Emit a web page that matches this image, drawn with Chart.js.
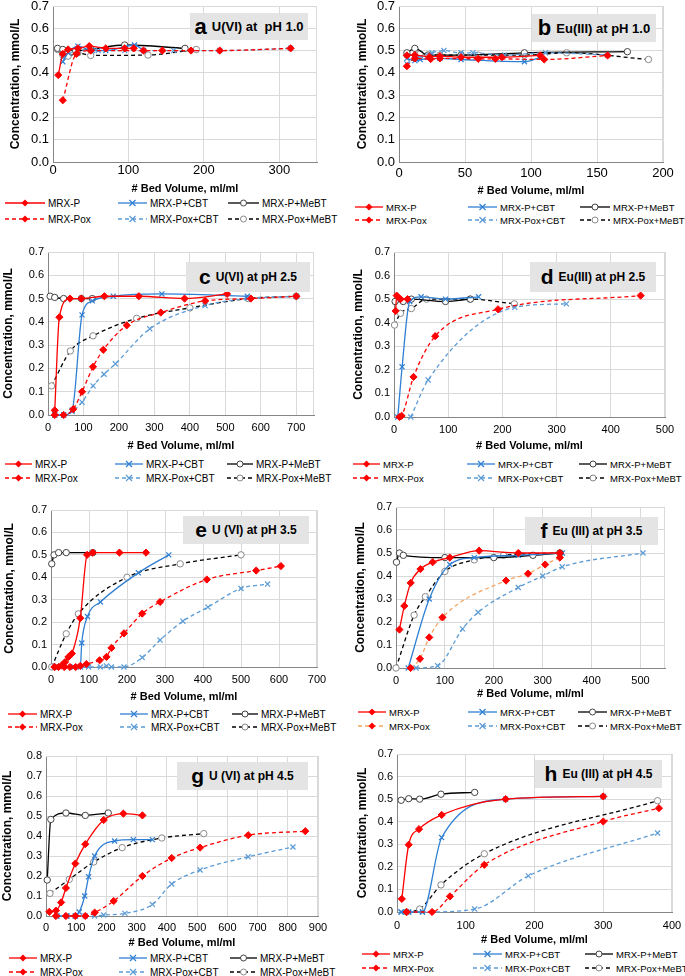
<!DOCTYPE html>
<html>
<head>
<meta charset="utf-8">
<script src="https://cdn.jsdelivr.net/npm/chart.js@4.4.0/dist/chart.umd.min.js"></script>
<style>
body{margin:0;background:#fff;width:685px;height:976px;position:relative;overflow:hidden;font-family:"Liberation Sans",Arial,sans-serif}
canvas{position:absolute}
.tbox{position:absolute;background:#e4e4e4;font-weight:bold;color:#000;display:flex;align-items:center;justify-content:center;white-space:pre}
.tbox b{margin-right:5px;font-weight:bold}
.leg{position:absolute;display:flex;align-items:center;white-space:nowrap;color:#000;height:14px}
.leg svg{margin-right:3px}
</style>
</head>
<body>
<script>
// ---- data: [bed volume, concentration] ----
const aP = [[7,0.39],[13,0.485],[20,0.505],[33,0.51],[48,0.52],[70,0.51],[95,0.51],[107,0.51]];
const aPox = [[13,0.277],[31,0.485],[50,0.50],[120,0.50],[145,0.50],[183,0.50],[221,0.50],[315,0.51]];
const aPCBT = [[13,0.45],[20,0.49],[33,0.52],[52,0.50],[70,0.50],[108,0.525],[120,0.50]];
const aPoxCBT = [[13,0.47],[33,0.50],[60,0.50],[95,0.50],[160,0.50],[221,0.50],[315,0.51]];
const aPMeBT = [[6,0.51],[13,0.505],[30,0.50],[50,0.505],[95,0.525],[175,0.51]];
const aPoxMeBT = [[6,0.505],[13,0.48],[20,0.475],[33,0.49],[50,0.478],[126,0.48],[190,0.505]];

const bP = [[6,0.478],[12,0.48],[23,0.472],[31,0.475],[47,0.47],[78,0.47],[107,0.478]];
const bPox = [[6,0.43],[12,0.465],[24,0.462],[31,0.465],[60,0.463],[73,0.463],[110,0.46],[158,0.478]];
const bPCBT = [[6,0.465],[12,0.455],[16,0.46],[31,0.465],[47,0.46],[95,0.45],[107,0.47]];
const bPoxCBT = [[6,0.44],[13,0.465],[25,0.49],[34,0.50],[47,0.49],[56,0.49],[80,0.48],[111,0.49],[158,0.48]];
const bPMeBT = [[6,0.49],[12,0.51],[22,0.48],[47,0.48],[95,0.49],[173,0.495]];
const bPoxMeBT = [[6,0.48],[16,0.485],[31,0.48],[60,0.48],[95,0.48],[127,0.49],[189,0.46]];

const cP = [[19,0.02],[32,0.42],[62,0.50],[94,0.50],[159,0.51],[256,0.51],[385,0.50],[505,0.52]];
const cPox = [[19,0],[44,0],[71,0.025],[96,0.10],[127,0.207],[156,0.28],[222,0.385],[318,0.44],[443,0.49],[572,0.50],[700,0.51]];
const cPCBT = [[19,0],[44,0],[68,0.02],[96,0.43],[125,0.49],[184,0.51],[321,0.52],[562,0.51]];
const cPoxCBT = [[19,0],[44,0],[68,0.015],[96,0.055],[127,0.125],[158,0.175],[190,0.22],[287,0.37],[443,0.47],[562,0.50],[700,0.51]];
const cPMeBT = [[6,0.51],[19,0.505],[44,0.50],[94,0.50],[125,0.50]];
const cPoxMeBT = [[10,0.125],[63,0.275],[127,0.34],[250,0.415],[400,0.46],[565,0.50],[700,0.51]];

const dP = [[3,0.45],[5,0.515],[12,0.50],[25,0.50]];
const dPox = [[10,0],[14,0.005],[36,0.17],[76,0.343],[192,0.457],[455,0.515]];
const dPCBT = [[7,0],[15,0.213],[29,0.49],[50,0.51],[95,0.50],[156,0.51]];
const dPoxCBT = [[31,0],[63,0.157],[223,0.465],[318,0.48]];
const dPMeBT = [[2,0.49],[17,0.49],[32,0.50],[95,0.49],[141,0.50]];
const dPoxMeBT = [[1,0.39],[12,0.44],[32,0.46],[60,0.50],[140,0.50],[222,0.48]];

const eP = [[9,0],[28,0.007],[37,0.022],[46,0.045],[55,0.06],[77,0.218],[95,0.50],[110,0.51],[180,0.51],[250,0.51]];
const ePox = [[10,0],[20,0],[35,0],[50,0],[65,0],[77,0.005],[93,0.013],[128,0.03],[146,0.045],[159,0.085],[192,0.15],[240,0.238],[287,0.29],[410,0.39],[540,0.43],[605,0.45]];
const ePCBT = [[60,0],[77,0],[81,0.107],[96,0.225],[130,0.29],[230,0.42],[310,0.50]];
const ePoxCBT = [[10,0],[60,0],[99,0],[130,0],[146,0.005],[159,0],[192,0],[240,0.042],[287,0.12],[347,0.204],[413,0.267],[500,0.35],[570,0.37]];
const ePMeBT = [[2,0.46],[8,0.50],[20,0.51],[40,0.51],[110,0.51]];
const ePoxMeBT = [[2,0],[40,0.148],[72,0.237],[200,0.40],[340,0.46],[500,0.50]];

const fP = [[7,0.167],[17,0.27],[30,0.37],[50,0.43],[75,0.46],[110,0.48],[170,0.51],[250,0.50],[335,0.50]];
const fPox = [[30,0],[49,0.04],[68,0.133],[95,0.22],[225,0.38],[270,0.41],[305,0.45],[335,0.48]];
const fPCBT = [[25,0],[68,0.30],[110,0.45],[160,0.48],[250,0.49],[340,0.50]];
const fPoxCBT = [[41,0],[85,0.01],[136,0.17],[168,0.242],[250,0.35],[300,0.40],[340,0.44],[505,0.50]];
const fPMeBT = [[1,0.46],[7,0.50],[15,0.49],[100,0.48],[200,0.48],[280,0.49],[335,0.50]];
const fPoxMeBT = [[0,0],[37,0.23],[60,0.31],[100,0.42],[160,0.47],[220,0.49],[335,0.50]];

const gP = [[11,0.021],[33,0.027],[50,0.068],[66,0.14],[97,0.262],[130,0.359],[191,0.48],[256,0.512],[319,0.503]];
const gPox = [[33,0],[66,0],[97,0],[130,0],[161,0.017],[224,0.075],[319,0.2],[416,0.29],[510,0.342],[669,0.404],[858,0.424]];
const gPCBT = [[36,0],[69,0],[97,0],[110,0.02],[128,0.1],[141,0.196],[161,0.3],[227,0.375],[289,0.382],[352,0.382]];
const gPoxCBT = [[36,0],[69,0],[97,0],[130,0],[161,0],[191,0.005],[261,0.013],[352,0.058],[416,0.16],[510,0.23],[669,0.296],[817,0.345]];
const gPMeBT = [[4,0.18],[16,0.483],[66,0.515],[130,0.503],[206,0.515]];
const gPoxMeBT = [[13,0.113],[77,0.183],[158,0.27],[252,0.342],[383,0.39],[522,0.412]];

const hP = [[7,0.058],[17,0.298],[32,0.367],[65,0.43],[158,0.50],[300,0.512]];
const hPox = [[14,0],[51,0],[77,0.069],[127,0.209],[300,0.401],[381,0.46]];
const hPCBT = [[6,0],[17,0],[37,0],[65,0.33],[158,0.50],[300,0.512]];
const hPoxCBT = [[6,0],[17,0],[37,0],[113,0.013],[191,0.16],[379,0.35]];
const hPMeBT = [[6,0.495],[17,0.502],[33,0.50],[64,0.522],[113,0.53]];
const hPoxMeBT = [[14,0],[33,0.013],[64,0.12],[127,0.258],[379,0.493]];

const seriesNames = ['MRX-P', 'MRX-Pox', 'MRX-P+CBT', 'MRX-Pox+CBT', 'MRX-P+MeBT', 'MRX-Pox+MeBT'];
const xTitle = '# Bed Volume, ml/ml';
const yTitle = 'Concentration, mmol/L';

// line / marker styles in the same order as seriesNames
const styles = [
  {line: '#ff0000', dash: [], pt: 'rectRot', fill: '#ff0000', edge: '#ff0000'},
  {line: '#ff0000', dash: [4, 3], pt: 'rectRot', fill: '#ff0000', edge: '#ff0000'},
  {line: '#2f7fd3', dash: [], pt: 'crossRot', fill: '#2f7fd3', edge: '#2f7fd3'},
  {line: '#5b9bd5', dash: [4, 3], pt: 'crossRot', fill: '#5b9bd5', edge: '#5b9bd5'},
  {line: '#000000', dash: [], pt: 'circle', fill: '#ffffff', edge: '#444444'},
  {line: '#000000', dash: [4, 3], pt: 'circle', fill: '#ffffff', edge: '#888888'}
];

// layout of each panel (page pixels): plot = [left, top, right, bottom], cv = canvas [left, top, right, bottom]
const panels = [
  {letter: 'a', text: 'U(VI) at  pH 1.0', series: [aP, aPox, aPCBT, aPoxCBT, aPMeBT, aPoxMeBT],
   xMax: 350, xStep: 100, yMax: 0.7, plot: [53, 6, 317, 162], cv: [8, 0, 340, 196], fs: 13, tickPad: [2, 4],
   box: [190, 13, 118, 27], boxFs: [22, 13], leg: [[5, 40], [118, 29], [228, 31]], legY: [203, 219], legFs: 10},
  {letter: 'b', text: 'Eu(III) at pH 1.0', series: [bP, bPox, bPCBT, bPoxCBT, bPMeBT, bPoxMeBT],
   xMax: 200, xStep: 50, yMax: 0.7, plot: [399, 6, 663, 162], cv: [355, 0, 685, 198], fs: 13, tickPad: [5, 4],
   box: [532, 14, 124, 28], boxFs: [22, 13], leg: [[355, 28], [468, 29], [580, 30]], legY: [207, 220], legFs: 9.5},
  {letter: 'c', text: 'U(VI) at pH 2.5', series: [cP, cPox, cPCBT, cPoxCBT, cPMeBT, cPoxMeBT],
   xMax: 750, xStep: 100, yMax: 0.7, plot: [48, 252, 314, 415], cv: [1, 242, 335, 453], fs: 11, tickPad: [7, 4],
   box: [186, 262, 124, 30], boxFs: [21, 12], leg: [[5, 27], [115, 28], [227, 26]], legY: [464, 478], legFs: 10},
  {letter: 'd', text: 'Eu(III) at pH 2.5', series: [dP, dPox, dPCBT, dPoxCBT, dPMeBT, dPoxMeBT],
   xMax: 500, xStep: 100, yMax: 0.7, plot: [394, 252, 665, 417], cv: [351, 242, 685, 453], fs: 11, tickPad: [7, 4],
   box: [530, 262, 126, 30], boxFs: [21, 12], leg: [[353, 27], [467, 28], [579, 28]], legY: [464, 478], legFs: 9.5},
  {letter: 'e', text: 'U (VI) at pH 3.5', series: [eP, ePox, ePCBT, ePoxCBT, ePMeBT, ePoxMeBT],
   xMax: 700, xStep: 100, yMax: 0.7, plot: [51, 510, 317, 667], cv: [2, 500, 340, 704], fs: 11, tickPad: [7, 4],
   box: [183, 516, 126, 28], boxFs: [21, 12], leg: [[8, 29], [120, 28], [232, 26]], legY: [714, 727], legFs: 10},
  {letter: 'f', text: 'Eu (III) at pH 3.5', series: [fP, fPox, fPCBT, fPoxCBT, fPMeBT, fPoxMeBT],
   xMax: 550, xStep: 100, yMax: 0.7, plot: [396, 507, 665, 668], cv: [353, 497, 685, 701], fs: 11, tickPad: [7, 4],
   box: [525, 517, 133, 28], boxFs: [21, 12], leg: [[358, 28], [468, 29], [578, 29]], legY: [712, 726], legFs: 9.5,
   poxLine: '#f4a460'},
  {letter: 'g', text: 'U (VI) at pH 4.5', series: [gP, gPox, gPCBT, gPoxCBT, gPMeBT, gPoxMeBT],
   xMax: 900, xStep: 100, yMax: 0.8, plot: [46, 756, 318, 916], cv: [0, 746, 340, 950], fs: 11, tickPad: [6, 4],
   box: [177, 762, 131, 28], boxFs: [21, 12], leg: [[9, 28], [119, 28], [230, 27]], legY: [958, 972], legFs: 10},
  {letter: 'h', text: 'Eu (III) at pH 4.5', series: [hP, hPox, hPCBT, hPoxCBT, hPMeBT, hPoxMeBT],
   xMax: 400, xStep: 100, yMax: 0.7, plot: [397, 754, 672, 912], cv: [355, 744, 685, 947], fs: 11, tickPad: [8, 4],
   box: [535, 760, 127, 28], boxFs: [21, 12], leg: [[362, 28], [473, 29], [585, 28]], legY: [954, 968], legFs: 9.5}
];

Chart.defaults.font.family = '"Liberation Sans", Arial, sans-serif';
Chart.defaults.color = '#000';

// right and top edges of the plot frame (grid colour)
const frame = {
  id: 'frame',
  beforeDatasetsDraw(chart) {
    const {ctx, chartArea: a} = chart;
    ctx.save();
    ctx.strokeStyle = '#d9d9d9';
    ctx.lineWidth = 1;
    ctx.beginPath();
    ctx.moveTo(a.left, a.top + 0.5);
    ctx.lineTo(a.right - 0.5, a.top + 0.5);
    ctx.lineTo(a.right - 0.5, a.bottom);
    ctx.stroke();
    ctx.restore();
  }
};

// x tick labels, placed with the x scale (drawn last so nothing clips them)
const xLabels = {
  id: 'xLabels',
  afterDraw(chart, args, opts) {
    const {ctx, scales: {x}, chartArea: a} = chart;
    ctx.save();
    ctx.fillStyle = '#000';
    ctx.font = opts.size + 'px "Liberation Sans", Arial, sans-serif';
    ctx.textAlign = 'center';
    ctx.textBaseline = 'top';
    x.ticks.forEach(t => {
      if (t.value % opts.step === 0) ctx.fillText(String(t.value), x.getPixelForValue(t.value), a.bottom + opts.pad);
    });
    ctx.restore();
  }
};

function markerSvg(st, cx, cy) {
  if (st.pt === 'rectRot') {
    return `<polygon points="${cx},${cy - 3.5} ${cx + 3.5},${cy} ${cx},${cy + 3.5} ${cx - 3.5},${cy}" fill="${st.fill}"/>`;
  }
  if (st.pt === 'crossRot') {
    return `<path d="M${cx - 3},${cy - 3}L${cx + 3},${cy + 3}M${cx - 3},${cy + 3}L${cx + 3},${cy - 3}" stroke="${st.edge}" stroke-width="1.2"/>`;
  }
  return `<circle cx="${cx}" cy="${cy}" r="3" fill="#fff" stroke="${st.edge}" stroke-width="1"/>`;
}

function addLegend(p) {
  // row 1: MRX-P, MRX-P+CBT, MRX-P+MeBT; row 2: the Pox variants
  const order = [[0, 2, 4], [1, 3, 5]];
  order.forEach((row, r) => {
    row.forEach((si, c) => {
      const st = styles[si];
      const lineColor = (si === 1 && p.poxLine) ? p.poxLine : st.line;
      const [x, len] = p.leg[c];
      const d = document.createElement('div');
      d.className = 'leg';
      d.style.left = x + 'px';
      d.style.top = (p.legY[r] - 7) + 'px';
      d.style.fontSize = p.legFs + 'px';
      const dash = st.dash.length ? `stroke-dasharray="${st.dash.join(',')}"` : '';
      d.innerHTML = `<svg width="${len}" height="12"><line x1="0" y1="6" x2="${len}" y2="6" stroke="${lineColor}" stroke-width="1.3" ${dash}/>${markerSvg(st, len / 2, 6)}</svg><span>${seriesNames[si]}</span>`;
      document.body.appendChild(d);
    });
  });
}

function addBox(p) {
  const [x, y, w, h] = p.box;
  const d = document.createElement('div');
  d.className = 'tbox';
  Object.assign(d.style, {left: x + 'px', top: y + 'px', width: w + 'px', height: h + 'px', fontSize: p.boxFs[1] + 'px'});
  d.innerHTML = `<b style="font-size:${p.boxFs[0]}px">${p.letter}</b>${p.text}`;
  document.body.appendChild(d);
}

panels.forEach(p => {
  const [cl, ct, cr, cb] = p.cv;
  const [L, T, R, B] = p.plot;
  const cv = document.createElement('canvas');
  cv.style.left = cl + 'px';
  cv.style.top = ct + 'px';
  cv.style.width = (cr - cl) + 'px';
  cv.style.height = (cb - ct) + 'px';
  cv.width = cr - cl;
  cv.height = cb - ct;
  document.body.appendChild(cv);

  const datasets = p.series.map((data, i) => {
    const st = styles[i];
    return {
      label: seriesNames[i],
      data: data.map(([x, y]) => ({x, y})),
      borderColor: (i === 1 && p.poxLine) ? p.poxLine : st.line,
      borderDash: st.dash,
      borderWidth: 1.3,
      pointStyle: st.pt,
      pointRadius: st.pt === 'circle' ? 3.2 : 3.6,
      pointBackgroundColor: st.fill,
      pointBorderColor: st.edge,
      pointBorderWidth: st.pt === 'crossRot' ? 1.2 : 1,
      cubicInterpolationMode: 'monotone',
      fill: false,
      clip: false
    };
  });

  const xTicks = [];
  for (let v = 0; v <= p.xMax; v += p.xStep) xTicks.push(v);

  new Chart(cv, {
    type: 'line',
    data: {datasets},
    plugins: [frame, xLabels],
    options: {
      responsive: false,
      animation: false,
      layout: {padding: {left: 0, top: T - ct, right: cr - R, bottom: 0}},
      plugins: {
        legend: {display: false},
        tooltip: {enabled: false},
        xLabels: {size: p.fs, pad: p.tickPad[0], step: p.xStep}
      },
      scales: {
        x: {
          type: 'linear', min: 0, max: p.xMax,
          grid: {color: '#d9d9d9', drawTicks: false},
          border: {color: '#868686'},
          ticks: {display: false, autoSkip: false, maxRotation: 0},
          afterBuildTicks: s => { s.ticks = xTicks.map(v => ({value: v})); },
          title: {display: true, text: xTitle, font: {size: 11, weight: 'bold'}, color: '#000', padding: {top: 0, bottom: 0}},
          afterFit: s => { s.height = cb - B; s.paddingLeft = 0; s.paddingRight = 0; }
        },
        y: {
          min: 0, max: p.yMax,
          grid: {color: '#d9d9d9', drawTicks: false},
          border: {color: '#868686'},
          ticks: {stepSize: 0.1, padding: p.tickPad[1], font: {size: p.fs}, color: '#000',
                  callback: v => v.toFixed(1)},
          title: {display: true, text: yTitle, font: {size: 12, weight: 'bold'}, color: '#000', padding: {top: 0, bottom: 0}},
          afterFit: s => { s.width = L - cl; s.paddingTop = 0; s.paddingBottom = 0; }
        }
      }
    }
  });

  addBox(p);
  addLegend(p);
});
</script>
</body>
</html>
